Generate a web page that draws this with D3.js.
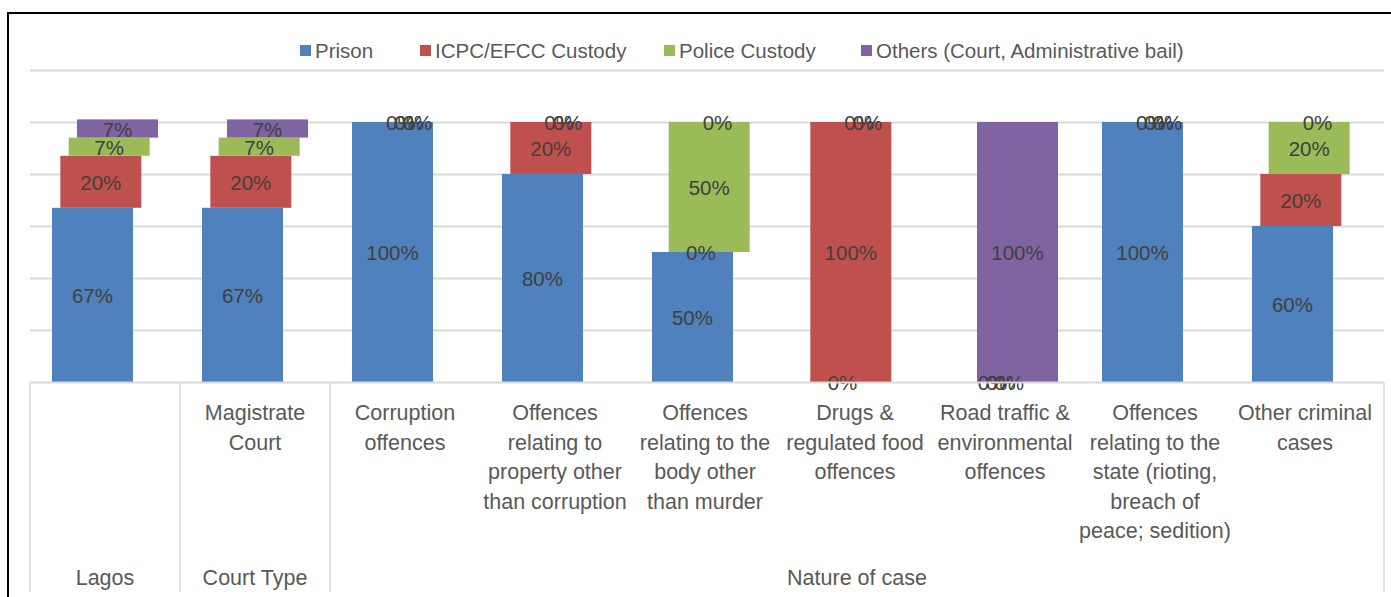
<!DOCTYPE html>
<html>
<head>
<meta charset="utf-8">
<script src="https://cdn.jsdelivr.net/npm/d3@7"></script>
<style>
  body { margin: 0; background: #fff; }
  svg text { font-family: "Liberation Sans Narrow", "Arial Narrow", "Liberation Sans", sans-serif; }
</style>
</head>
<body>
<div id="chart"></div>
<script>
// category labels (already wrapped the way the original shows them)
var categories = [
  [],
  ["Magistrate", "Court"],
  ["Corruption", "offences"],
  ["Offences", "relating to", "property other", "than corruption"],
  ["Offences", "relating to the", "body other", "than murder"],
  ["Drugs &", "regulated food", "offences"],
  ["Road traffic &", "environmental", "offences"],
  ["Offences", "relating to the", "state (rioting,", "breach of", "peace; sedition)"],
  ["Other criminal", "cases"]
];
var groupNames = ["Lagos", "Court Type", "Nature of case"];
var groupSpans = [1, 1, 7];

var seriesNames = ["Prison", "ICPC/EFCC Custody", "Police Custody", "Others (Court, Administrative bail)"];
var prison = [67, 67, 100, 80, 50, 0, 0, 100, 60];
var icpc   = [20, 20, 0, 20, 0, 100, 0, 0, 20];
var police = [7, 7, 0, 0, 50, 0, 0, 0, 20];
var others = [7, 7, 0, 0, 0, 0, 100, 0, 0];
var yTicks = [0, 20, 40, 60, 80, 100, 120];

var colors = ["#4F81BD", "#C0504D", "#9BBB59", "#8064A2"];

var W = 1391, H = 597;
var svg = d3.select("#chart").append("svg").attr("width", W).attr("height", H);

// outer frame
svg.append("path").attr("d", "M8,597 V13 H1391").attr("fill", "none").attr("stroke", "#000").attr("stroke-width", 2);

var idx = d3.range(categories.length);
var x = d3.scaleBand().domain(idx).range([30, 1380]).padding(0);
var y = d3.scaleLinear().domain([0, 120]).range([382, 70]);

// gridlines
svg.append("g").selectAll("line").data(yTicks.slice(1)).enter().append("line")
  .attr("x1", 30).attr("x2", 1384)
  .attr("y1", function(d) { return y(d) + 0.5; }).attr("y2", function(d) { return y(d) + 0.5; })
  .attr("stroke", "#D9D9D9").attr("stroke-width", 2);

// stacks
var values = [prison, icpc, police, others];
var rows = idx.map(function(i) {
  return {i: i, s0: prison[i], s1: icpc[i], s2: police[i], s3: others[i]};
});
var stack = d3.stack().keys(["s0", "s1", "s2", "s3"]);
var layers = stack(rows);

var bw = x.bandwidth();
var barW = bw * 0.54;
var step = barW * 0.103;
var clusterW = barW + step * 3;
function barX(i, s) { return x(i) + (bw - clusterW) / 2 + s * step; }

layers.forEach(function(layer, s) {
  svg.append("g").selectAll("rect").data(layer).enter().append("rect")
    .attr("x", function(d, i) { return barX(i, s); })
    .attr("y", function(d) { return y(d[1]); })
    .attr("width", barW)
    .attr("height", function(d) { return y(d[0]) - y(d[1]); })
    .attr("fill", colors[s]);
});

// data labels
layers.forEach(function(layer, s) {
  svg.append("g").selectAll("text").data(layer).enter().append("text")
    .attr("x", function(d, i) { return barX(i, s) + barW / 2; })
    .attr("y", function(d) { return y((d[0] + d[1]) / 2) + 1; })
    .attr("dy", "0.35em")
    .attr("text-anchor", "middle")
    .attr("font-size", 20.5)
    .attr("fill", "#404040")
    .text(function(d, i) { return values[s][i] + "%"; });
});

// category axis
svg.append("line").attr("x1", 30).attr("x2", 1384).attr("y1", 382.5).attr("y2", 382.5)
  .attr("stroke", "#D9D9D9").attr("stroke-width", 2);

var bounds = [0];
groupSpans.forEach(function(n, k) { bounds.push(bounds[k] + n); });
svg.append("g").selectAll("line").data(bounds).enter().append("line")
  .attr("x1", function(b) { return b < idx.length ? x(b) : 1384; })
  .attr("x2", function(b) { return b < idx.length ? x(b) : 1384; })
  .attr("y1", 382).attr("y2", 592)
  .attr("stroke", "#D9D9D9").attr("stroke-width", 1.5);

var catG = svg.append("g").selectAll("text").data(idx).enter().append("text")
  .attr("text-anchor", "middle")
  .attr("font-size", 21.5)
  .attr("fill", "#595959");
catG.each(function(i) {
  var t = d3.select(this);
  categories[i].forEach(function(line, k) {
    t.append("tspan").attr("x", x(i) + bw / 2).attr("y", 420 + k * 29.6).text(line);
  });
});

svg.append("g").selectAll("text").data(groupNames).enter().append("text")
  .attr("x", function(g, k) {
    var a = x(bounds[k]);
    var b = bounds[k + 1] < idx.length ? x(bounds[k + 1]) : 1384;
    return (a + b) / 2;
  })
  .attr("y", 585)
  .attr("text-anchor", "middle")
  .attr("font-size", 21.5)
  .attr("fill", "#595959")
  .text(function(g) { return g; });

// legend
var legendX = [300, 420, 664, 861];
var lg = svg.append("g").selectAll("g").data(seriesNames).enter().append("g")
  .attr("transform", function(d, i) { return "translate(" + legendX[i] + ",51)"; });
lg.append("rect").attr("x", 0).attr("y", -6).attr("width", 11).attr("height", 11)
  .attr("fill", function(d, i) { return colors[i]; });
lg.append("text").attr("x", 15).attr("y", 0).attr("dy", "0.35em")
  .attr("font-size", 20.5).attr("fill", "#595959")
  .text(function(d) { return d; });
</script>
</body>
</html>
